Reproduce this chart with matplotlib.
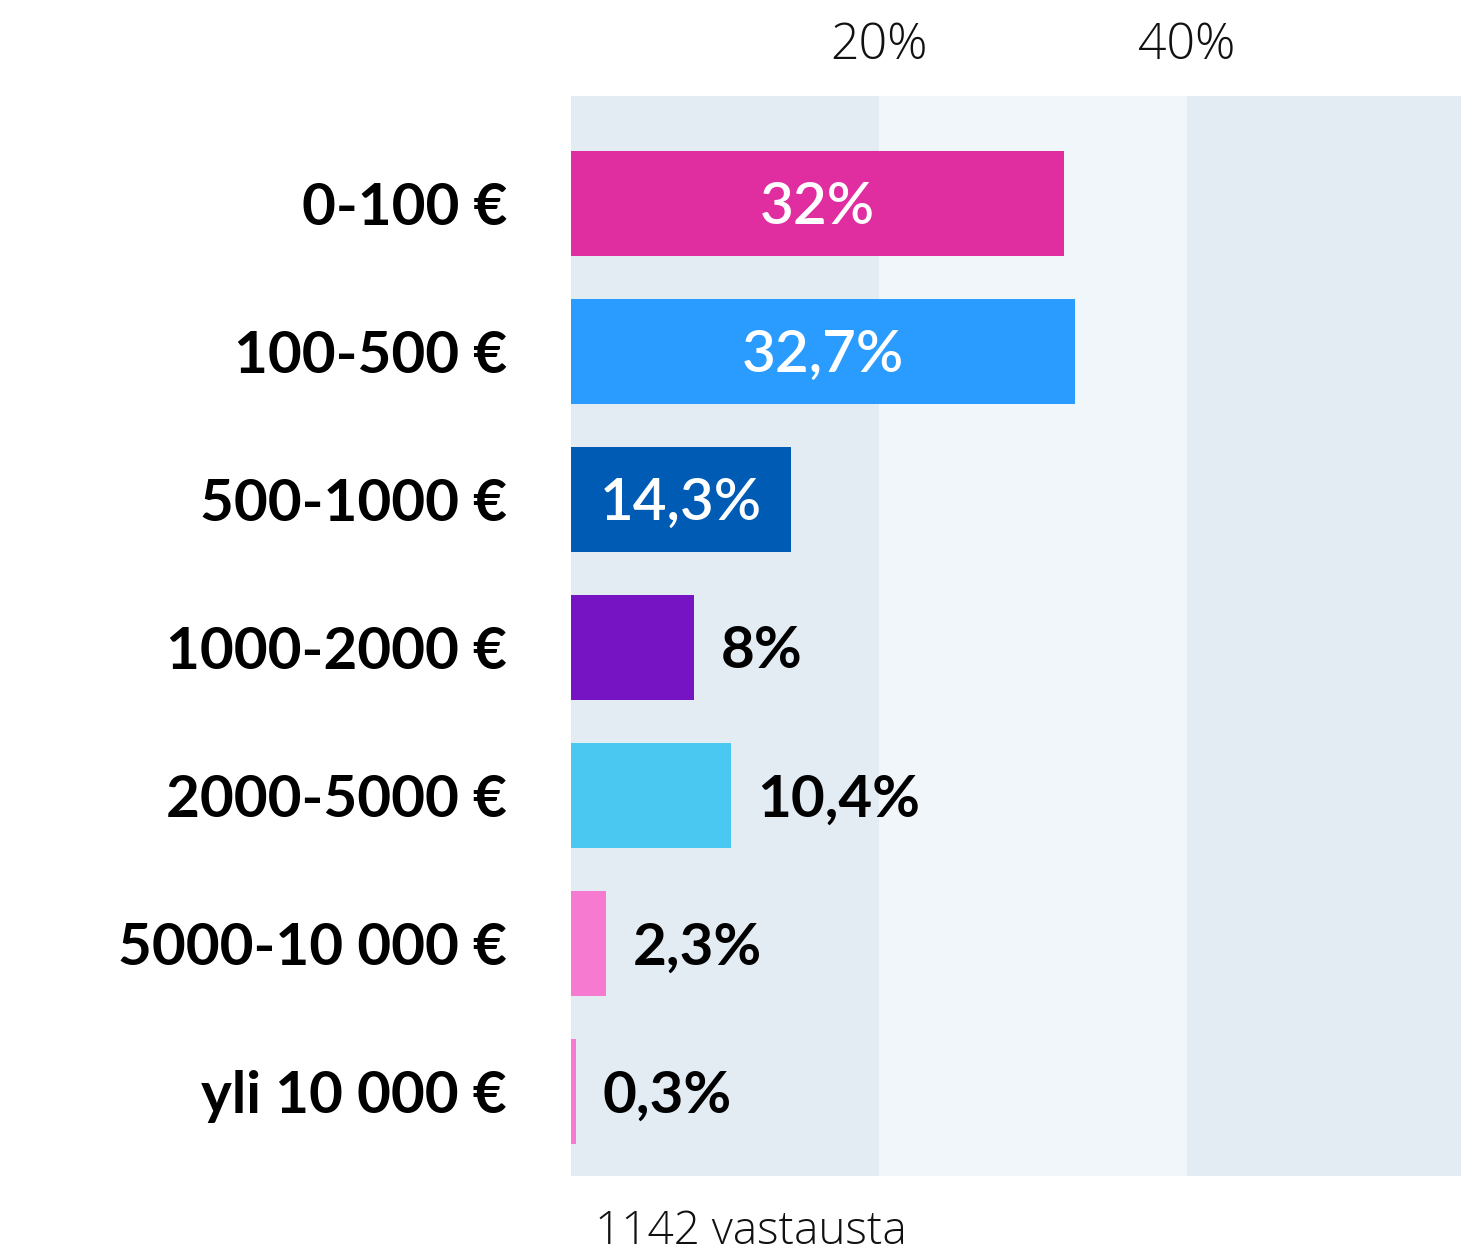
import matplotlib
matplotlib.use("Agg")
import matplotlib.pyplot as plt

plt.rcParams["font.family"] = ["Lato", "DejaVu Sans"]
LIGHT_FONT = ["Open Sans", "DejaVu Sans"]

categories = ["0-100 €", "100-500 €", "500-1000 €", "1000-2000 €",
              "2000-5000 €", "5000-10 000 €", "yli 10 000 €"]
values = [32, 32.7, 14.3, 8, 10.4, 2.3, 0.3]
value_labels = ["32%", "32,7%", "14,3%", "8%", "10,4%", "2,3%", "0,3%"]
colors = ["#e02da0", "#2a9bff", "#005bb5", "#7614c4",
          "#4bc8f2", "#f57ad0", "#f57ad0"]
label_inside = [True, True, True, False, False, False, False]
tick_values = [20, 40]
tick_labels = ["20%", "40%"]
footnote = "1142 vastausta"

DARK_BG = "#e3ebf3"
LIGHT_BG = "#f1f6fb"
XMAX = 57.8

fig = plt.figure(figsize=(14.61, 12.54), dpi=100)
ax = fig.add_axes([571 / 1461, 1 - 1176 / 1254, 1 - 571 / 1461, 1080 / 1254])

# background bands
ax.axvspan(0, 20, color=DARK_BG, zorder=0, lw=0)
ax.axvspan(20, 40, color=LIGHT_BG, zorder=0, lw=0)
ax.axvspan(40, XMAX, color=DARK_BG, zorder=0, lw=0)

ypos = list(range(len(categories)))
ax.barh(ypos, values, height=0.71, color=colors, zorder=2)

for y, v, lab, inside in zip(ypos, values, value_labels, label_inside):
    if inside:
        ax.text(v / 2, y + 0.03, lab, ha="center", va="center", color="white",
                fontsize=42, fontweight="semibold", zorder=3)
    else:
        ax.annotate(lab, xy=(v, y + 0.03), xytext=(19, 0), textcoords="offset points",
                    ha="left", va="center", color="black",
                    fontsize=42, fontweight="bold", zorder=3)

ax.set_xlim(0, XMAX)
ax.set_ylim(6.571, -0.726)

ax.set_yticks(ypos)
ax.set_yticklabels(categories, fontsize=42, fontweight="bold")
ax.tick_params(axis="y", length=0, pad=46)

ax.xaxis.tick_top()
ax.set_xticks(tick_values)
ax.set_xticklabels(tick_labels, fontsize=36, fontweight="light",
                   color="#111111", family=LIGHT_FONT)
ax.tick_params(axis="x", length=0, pad=18)

for s in ax.spines.values():
    s.set_visible(False)

fig.text(595 / 1461, 1 - 1232 / 1254, footnote, ha="left", va="center",
         fontsize=33, fontweight="light", color="#111111", family=LIGHT_FONT)

fig.savefig("out.png", dpi=100)
